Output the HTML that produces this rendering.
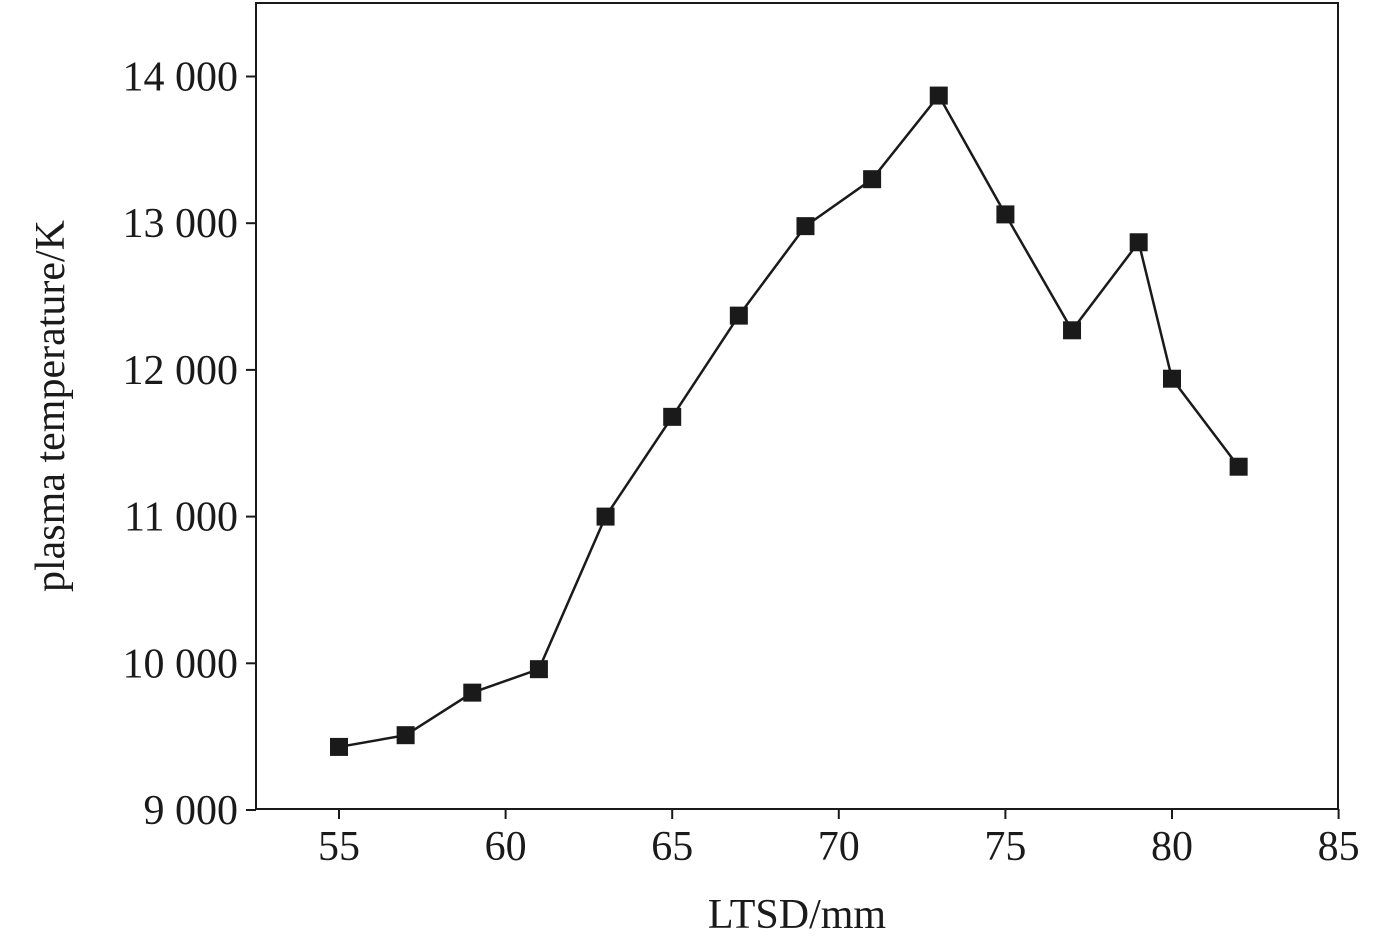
<!DOCTYPE html>
<html><head><meta charset="utf-8"><style>
html,body{margin:0;padding:0;background:#fff;}
svg text{font-family:"Liberation Serif",serif;fill:#1a1a1a;}
</style></head><body>
<svg id="chart" width="1378" height="935" xmlns="http://www.w3.org/2000/svg">
<rect x="256" y="3" width="1082" height="806" fill="none" stroke="#1a1a1a" stroke-width="2"/>
<g id="xt"></g><g id="yt"></g><g id="series"></g>
<text x="797" y="928" font-size="42" text-anchor="middle">LTSD/mm</text>
<text transform="translate(64,406) rotate(-90)" font-size="42" text-anchor="middle">plasma temperature/K</text>
</svg>
<script>
const xValues=[55,57,59,61,63,65,67,69,71,73,75,77,79,80,82];
const yValues=[9430,9510,9800,9960,11000,11680,12370,12980,13300,13870,13060,12270,12870,11940,11340];
const xTicks=[55,60,65,70,75,80,85];
const yTicks=[9000,10000,11000,12000,13000,14000];
const yTickLabels=["9 000","10 000","11 000","12 000","13 000","14 000"];
const NS="http://www.w3.org/2000/svg";
const xS=v=>339+(v-55)*33.32;
const yS=v=>810-(v-9000)*0.1467;
function mk(t,a,p){const e=document.createElementNS(NS,t);for(const k in a)e.setAttribute(k,a[k]);p.appendChild(e);return e;}
const xt=document.getElementById('xt'),yt=document.getElementById('yt'),sg=document.getElementById('series');
xTicks.forEach(v=>{
 const l=mk('line',{x1:xS(v),x2:xS(v),y1:809,y2:819,stroke:'#1a1a1a','stroke-width':2},xt);
 
 
 const t=mk('text',{x:xS(v),y:860,'font-size':42,'text-anchor':'middle'},xt);t.textContent=v;
 
 
});
yTicks.forEach((v,i)=>{
 const l=mk('line',{x1:246,x2:256,y1:yS(v),y2:yS(v),stroke:'#1a1a1a','stroke-width':2},yt);
 
 
 const t=mk('text',{x:238,y:yS(v)+14,'font-size':42,'text-anchor':'end'},yt);t.textContent=yTickLabels[i];
 
 
});
const pl=mk('polyline',{points:xValues.map((x,i)=>xS(x)+','+yS(yValues[i])).join(' '),fill:'none',stroke:'#1a1a1a','stroke-width':2.5},sg);


xValues.forEach((x,i)=>{
 const r=mk('rect',{x:xS(x)-9,y:yS(yValues[i])-9,width:18,height:18,fill:'#1a1a1a'},sg);
 
 
});
</script>
</body></html>
